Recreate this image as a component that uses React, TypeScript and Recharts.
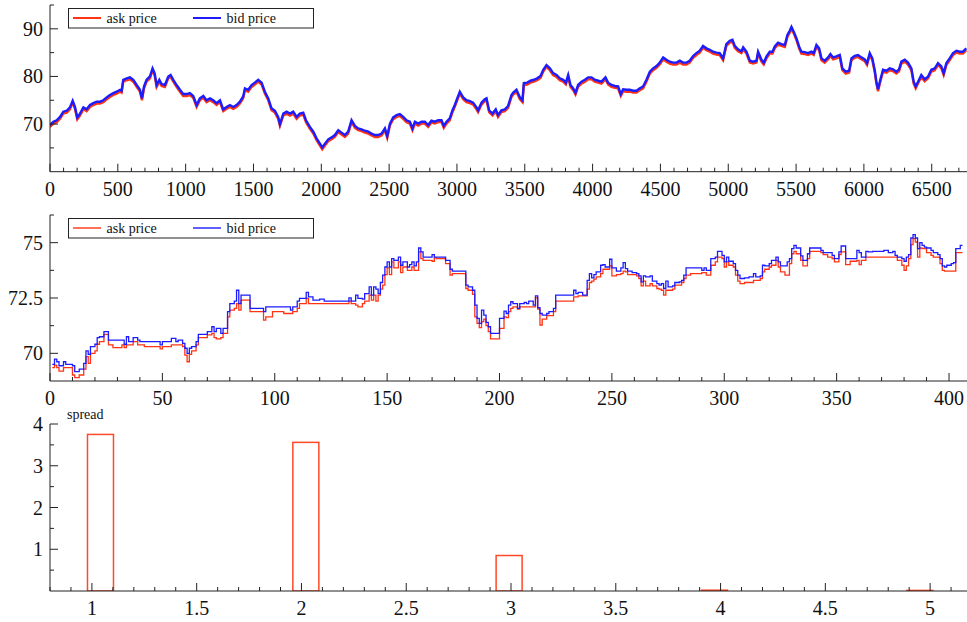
import React from 'react';
import { LineChart, Line, XAxis, YAxis, BarChart, Bar, Legend } from 'recharts';

const FONT = '"Liberation Serif", "Times New Roman", serif';
const AXIS = '#222';
const ASK = '#ff3414';
const BID = '#1c1cff';

// ---------- top panel: full record ----------
const topX = [
  0,25,49,74,98,123,147,167,184,201,
  221,246,270,295,319,344,368,393,418,442,
  467,491,516,528,540,565,589,614,639,663,
  678,693,712,737,756,771,786,806,823,847,
  872,889,909,933,958,982,1007,1031,1056,1081,
  1105,1130,1154,1179,1203,1228,1253,1277,1302,1326,
  1351,1375,1400,1424,1437,1461,1486,1510,1535,1560,
  1584,1609,1633,1658,1682,1695,1720,1744,1769,1793,
  1818,1842,1867,1887,1916,1941,1965,1990,2007,2027,
  2051,2076,2100,2125,2149,2174,2198,2223,2248,2272,
  2297,2321,2346,2370,2395,2420,2444,2469,2486,2506,
  2530,2555,2579,2604,2628,2653,2672,2690,2714,2739,
  2763,2788,2812,2837,2862,2886,2903,2923,2947,2967,
  2984,3002,3021,3046,3070,3095,3119,3144,3156,3181,
  3205,3218,3237,3262,3286,3303,3328,3353,3377,3402,
  3415,3439,3464,3483,3493,3518,3542,3567,3591,3616,
  3636,3660,3685,3709,3734,3758,3783,3803,3820,3837,
  3857,3874,3893,3918,3943,3967,3992,4016,4041,4065,
  4095,4114,4139,4164,4188,4208,4225,4250,4274,4299,
  4323,4348,4372,4397,4422,4446,4471,4495,4520,4544,
  4569,4593,4618,4643,4667,4692,4716,4741,4765,4790,
  4814,4839,4864,4888,4913,4937,4962,4986,5011,5031,
  5048,5072,5097,5110,5134,5159,5183,5208,5220,5245,
  5262,5282,5306,5326,5343,5367,5392,5417,5436,5453,
  5466,5483,5503,5522,5539,5564,5588,5613,5630,5650,
  5670,5687,5711,5736,5753,5773,5797,5822,5841,5866,
  5891,5908,5932,5957,5981,6006,6023,6043,6062,6080,
  6092,6104,6121,6141,6166,6190,6215,6239,6259,6276,
  6301,6325,6350,6367,6382,6399,6423,6448,6473,6497,
  6522,6546,6571,6588,6608,6632,6657,6682,6706,6730,
  6755,
];
const topBid = [
  69.8,70.5,70.8,71.5,72.6,72.8,73.5,74.9,73.6,71.4,
  72.2,73.5,73.1,74.0,74.4,74.7,74.7,75.0,75.6,76.1,
  76.5,76.8,77.2,77.0,79.3,79.6,79.8,79.3,78.2,77.2,
  75.4,77.9,79.3,80.0,81.7,80.7,78.2,79.3,78.4,78.2,
  80.0,80.3,79.3,78.2,77.2,76.3,76.3,76.5,75.9,74.0,
  75.4,75.9,75.0,75.4,75.0,74.4,75.0,73.1,73.6,74.0,
  73.6,74.0,74.7,75.8,77.5,77.2,78.2,78.7,79.3,78.7,
  76.8,75.4,73.3,72.8,71.5,70.0,72.2,72.6,72.2,72.6,
  71.5,72.2,72.4,70.8,69.4,68.4,67.0,65.9,65.1,65.9,
  66.8,67.2,67.7,68.7,68.2,67.7,68.4,70.8,69.6,69.1,
  68.9,68.6,68.4,68.0,67.7,67.7,68.0,69.1,67.5,70.1,
  71.4,71.9,72.1,71.5,70.8,70.5,69.1,70.5,70.1,70.5,
  70.5,69.8,70.7,70.5,70.8,70.8,69.6,70.5,71.2,72.9,
  74.0,75.4,76.8,75.6,75.0,74.8,74.5,73.5,72.9,74.5,
  75.2,75.4,72.9,72.2,73.1,71.9,72.9,73.1,73.8,76.1,
  76.6,77.2,75.6,75.0,78.6,78.7,79.1,79.3,79.6,80.1,
  81.4,82.4,81.7,80.7,80.3,79.6,79.3,78.7,80.3,78.2,
  77.5,76.6,78.2,78.9,79.3,79.8,79.8,79.3,79.1,78.9,
  79.8,78.7,78.2,78.0,77.9,76.3,77.3,77.2,77.2,77.0,
  77.0,77.5,77.9,79.3,81.0,81.7,82.2,82.9,84.0,83.5,
  83.1,82.9,82.9,83.3,82.9,82.9,83.3,84.3,84.9,85.4,
  86.4,85.9,85.6,85.2,85.0,84.9,83.8,86.8,87.5,87.7,
  86.4,85.7,85.3,86.1,85.2,83.3,83.1,83.3,85.2,83.5,
  82.9,84.2,85.2,85.2,86.3,87.1,86.8,86.6,88.7,89.6,
  90.4,89.4,88.0,86.3,85.2,85.1,84.9,85.2,84.9,86.6,
  85.9,83.8,83.3,84.0,84.7,84.0,84.2,84.5,81.7,81.0,
  81.2,83.8,84.3,84.5,84.0,83.6,82.8,84.9,83.8,81.3,
  78.9,77.3,79.3,81.4,81.2,81.7,81.5,81.0,81.5,83.1,
  83.5,82.9,81.7,78.9,77.9,78.9,80.3,79.4,80.0,81.4,
  81.7,82.8,82.1,80.7,82.8,83.8,84.9,85.4,85.2,85.2,
  85.9,
];
const topAsk = [
  69.4,70.1,70.4,71.1,72.2,72.4,73.1,74.5,73.2,71.0,
  71.8,73.1,72.7,73.6,74.0,74.3,74.3,74.6,75.2,75.7,
  76.1,76.4,76.8,76.6,78.9,79.2,79.4,78.9,77.8,76.8,
  75.0,77.5,78.9,79.6,81.3,80.3,77.8,78.9,78.0,77.8,
  79.6,79.9,78.9,77.8,76.8,75.9,75.9,76.1,75.5,73.6,
  75.0,75.5,74.6,75.0,74.6,74.0,74.6,72.7,73.2,73.6,
  73.2,73.6,74.3,75.4,77.1,76.8,77.8,78.3,78.9,78.3,
  76.4,75.0,72.9,72.4,71.1,69.6,71.8,72.2,71.8,72.2,
  71.1,71.8,72.0,70.4,69.0,68.0,66.6,65.5,64.7,65.5,
  66.4,66.8,67.3,68.3,67.8,67.3,68.0,70.4,69.2,68.7,
  68.5,68.2,68.0,67.6,67.3,67.3,67.6,68.7,67.1,69.7,
  71.0,71.5,71.7,71.1,70.4,70.1,68.7,70.1,69.7,70.1,
  70.1,69.4,70.3,70.1,70.4,70.4,69.2,70.1,70.8,72.5,
  73.6,75.0,76.4,75.2,74.6,74.4,74.1,73.1,72.5,74.1,
  74.8,75.0,72.5,71.8,72.7,71.5,72.5,72.7,73.4,75.7,
  76.2,76.8,75.2,74.6,78.2,78.3,78.7,78.9,79.2,79.7,
  81.0,82.0,81.3,80.3,79.9,79.2,78.9,78.3,79.9,77.8,
  77.1,76.2,77.8,78.5,78.9,79.4,79.4,78.9,78.7,78.5,
  79.4,78.3,77.8,77.6,77.5,75.9,76.9,76.8,76.8,76.6,
  76.6,77.1,77.5,78.9,80.6,81.3,81.8,82.5,83.6,83.1,
  82.7,82.5,82.5,82.9,82.5,82.5,82.9,83.9,84.5,85.0,
  86.0,85.5,85.2,84.8,84.6,84.5,83.4,86.4,87.1,87.3,
  86.0,85.3,84.9,85.7,84.8,82.9,82.7,82.9,84.8,83.1,
  82.5,83.8,84.8,84.8,85.9,86.7,86.4,86.2,88.3,89.2,
  90.0,89.0,87.6,85.9,84.8,84.7,84.5,84.8,84.5,86.2,
  85.5,83.4,82.9,83.6,84.3,83.6,83.8,84.1,81.3,80.6,
  80.8,83.4,83.9,84.1,83.6,83.2,82.4,84.5,83.4,80.9,
  78.5,76.9,78.9,81.0,80.8,81.3,81.1,80.6,81.1,82.7,
  83.1,82.5,81.3,78.5,77.5,78.5,79.9,79.0,79.6,81.0,
  81.3,82.4,81.7,80.3,82.4,83.4,84.5,85.0,84.8,84.8,
  85.5,
];
const topXTicks = [0,100,200,300,400,500,600,700,800,900,1000,1100,1200,1300,1400,1500,1600,1700,1800,1900,2000,2100,2200,2300,2400,2500,2600,2700,2800,2900,3000,3100,3200,3300,3400,3500,3600,3700,3800,3900,4000,4100,4200,4300,4400,4500,4600,4700,4800,4900,5000,5100,5200,5300,5400,5500,5600,5700,5800,5900,6000,6100,6200,6300,6400,6500,6600,6700];
const topXLabels = [0,500,1000,1500,2000,2500,3000,3500,4000,4500,5000,5500,6000,6500];
const topYTicks = [65,70,75,80,85,90,95];
const topYLabels = [70,80,90];

// ---------- middle panel: first ticks (step) ----------
const midX = [
  1,2,3,4,6,7,10,11,13,15,
  16,17,18,20,21,22,24,26,28,32,
  33,34,35,37,39,40,42,49,50,54,
  56,57,59,60,61,62,63,65,66,70,
  72,73,74,76,77,79,80,82,83,84,
  85,89,95,96,99,104,107,108,110,111,
  114,115,117,120,122,133,134,136,137,139,
  140,142,143,144,145,146,147,148,149,150,
  151,152,153,155,156,157,159,160,161,162,
  163,164,165,166,170,171,172,176,178,179,
  185,186,188,189,190,191,192,193,194,195,
  196,200,202,203,204,205,206,208,209,211,
  212,213,215,216,217,218,219,221,222,224,
  225,233,234,235,237,239,240,241,242,243,
  245,246,247,249,250,252,254,255,256,257,
  259,261,262,263,264,265,267,268,270,271,
  272,273,274,275,277,278,280,281,282,283,
  285,290,291,292,294,296,297,299,300,301,
  302,304,305,306,307,309,311,313,314,316,
  317,318,320,321,323,324,325,327,328,329,
  330,331,332,334,335,337,338,343,344,346,
  348,349,351,352,354,356,359,360,361,363,
  364,366,371,373,375,376,377,379,380,381,
  382,383,384,385,386,387,388,389,390,392,
  393,395,396,397,398,399,401,402,403,405,
  406,
];
const midBid = [
  69.50,69.74,69.62,69.44,69.62,69.50,69.44,69.17,69.29,69.55,
  70.11,69.95,70.30,70.41,70.71,70.75,70.98,70.60,70.60,70.60,
  70.41,70.75,70.53,70.71,70.60,70.53,70.53,70.38,70.53,70.68,
  70.53,70.60,70.45,70.23,70.00,70.23,70.30,70.53,70.86,70.98,
  71.20,70.98,71.13,70.90,71.13,71.88,72.25,72.36,72.85,72.25,
  72.63,72.03,71.88,72.10,72.10,72.10,71.95,72.10,72.36,72.48,
  72.75,72.55,72.40,72.45,72.36,72.51,72.36,72.63,72.48,72.45,
  72.70,73.00,72.63,73.00,72.90,72.70,73.20,73.53,73.90,74.13,
  73.90,74.28,74.20,74.35,73.98,74.13,73.90,74.01,74.13,73.95,
  74.13,74.76,74.58,74.35,74.46,74.35,74.35,74.20,73.80,73.71,
  73.08,73.00,72.85,72.18,71.58,71.35,71.95,71.73,71.40,71.20,
  70.90,71.58,71.91,71.80,72.18,72.33,72.25,72.03,72.25,72.30,
  72.25,72.36,72.18,72.60,72.06,71.80,71.73,71.80,71.88,72.03,
  72.63,72.85,72.70,72.75,72.63,73.30,73.60,73.41,73.56,73.68,
  73.98,74.01,73.90,74.25,73.86,73.71,73.86,74.10,73.83,73.71,
  73.65,73.60,73.50,73.23,73.50,73.45,73.50,73.26,73.15,73.08,
  73.15,72.93,73.26,73.00,73.05,73.20,73.23,73.30,73.53,73.86,
  73.86,73.75,73.86,73.75,74.28,74.35,74.61,74.43,74.13,74.35,
  74.16,74.05,73.75,73.53,73.38,73.41,73.45,73.60,73.45,73.50,
  73.98,73.95,74.05,74.20,74.35,74.13,73.95,73.95,74.13,74.28,
  74.73,74.88,74.76,74.40,74.20,74.50,74.76,74.65,74.55,74.55,
  74.43,74.28,74.58,74.85,74.28,74.28,74.65,74.55,74.35,74.61,
  74.58,74.61,74.65,74.55,74.61,74.43,74.35,74.28,74.16,74.35,
  74.46,75.21,75.36,75.21,74.73,75.00,74.88,74.80,74.76,74.65,
  74.55,74.46,74.28,73.95,73.90,73.98,74.05,74.10,74.73,74.88,
  74.88,
];
const midAsk = [
  69.35,69.47,69.35,69.20,69.35,69.35,69.02,68.90,69.02,69.29,
  69.85,69.55,70.00,70.11,70.41,70.53,70.86,70.38,70.26,70.38,
  70.26,70.38,70.38,70.53,70.38,70.38,70.30,70.20,70.30,70.38,
  70.38,70.38,70.30,69.92,69.62,69.95,70.11,70.38,70.71,70.83,
  70.90,70.71,70.65,70.71,70.90,71.65,71.95,72.03,72.25,71.95,
  72.40,71.88,71.50,71.65,71.88,71.80,71.80,71.88,72.03,72.25,
  72.48,72.25,72.25,72.25,72.25,72.36,72.25,72.18,72.10,72.25,
  72.36,72.63,72.40,72.63,72.36,72.63,72.90,73.08,73.56,73.86,
  73.56,74.13,73.86,74.13,73.65,73.90,73.75,73.75,73.90,73.75,
  73.75,74.58,74.28,74.20,74.16,74.31,74.28,74.05,73.53,73.60,
  72.93,72.85,72.66,71.65,71.35,71.16,71.43,71.55,71.25,70.98,
  70.65,71.13,71.65,71.61,71.88,72.03,72.10,72.00,72.10,72.10,
  72.10,72.10,72.10,72.51,72.00,71.28,71.55,71.70,71.70,71.88,
  72.36,72.55,72.55,72.60,72.60,72.90,73.20,73.26,73.35,73.45,
  73.60,73.80,73.80,73.95,73.50,73.56,73.60,73.71,73.68,73.56,
  73.56,73.50,73.38,73.05,73.26,73.05,73.15,73.05,72.93,72.90,
  72.85,72.63,72.85,72.85,72.90,73.08,73.08,73.20,73.38,73.53,
  73.60,73.65,73.65,73.53,73.98,74.13,74.35,74.28,73.90,74.13,
  73.98,73.90,73.53,73.26,73.15,73.20,73.20,73.30,73.30,73.38,
  73.68,73.80,73.90,73.98,74.20,73.90,73.68,73.53,73.53,74.05,
  74.50,74.61,74.50,74.20,73.95,74.28,74.61,74.55,74.46,74.35,
  74.28,74.13,74.46,74.58,74.01,74.16,74.20,74.01,74.20,74.35,
  74.35,74.35,74.35,74.35,74.35,74.35,74.20,73.98,73.75,73.95,
  74.28,74.91,75.18,75.03,74.35,74.76,74.73,74.73,74.55,74.43,
  74.35,74.35,74.05,73.75,73.71,73.71,73.71,73.71,74.55,74.55,
  74.55,
];
const midXTicks = [0,10,20,30,40,50,60,70,80,90,100,110,120,130,140,150,160,170,180,190,200,210,220,230,240,250,260,270,280,290,300,310,320,330,340,350,360,370,380,390,400];
const midXLabels = [0,50,100,150,200,250,300,350,400];
const midYTicks = [70,71.25,72.5,73.75,75,76.25];
const midYLabels = [70,72.5,75];

// ---------- bottom panel: spread histogram ----------
const spreadBins = [1.04, 2.02, 2.99, 3.97, 4.95];
const spreadValues = [3.75, 3.56, 0.85, 0.02, 0.01];
const botXTicks = [0.8,0.9,1,1.1,1.2,1.3,1.4,1.5,1.6,1.7,1.8,1.9,2,2.1,2.2,2.3,2.4,2.5,2.6,2.7,2.8,2.9,3,3.1,3.2,3.3,3.4,3.5,3.6,3.7,3.8,3.9,4,4.1,4.2,4.3,4.4,4.5,4.6,4.7,4.8,4.9,5,5.1];
const botXLabels = [1,1.5,2,2.5,3,3.5,4,4.5,5];
const botYTicks = [0.5,1,1.5,2,2.5,3,3.5,4];
const botYLabels = [1,2,3,4];

const topData = topX.map((x, i) => ({ x, ask: topAsk[i], bid: topBid[i] }));
const midData = midX.map((x, i) => ({ x, ask: midAsk[i], bid: midBid[i] }));
const spreadData = spreadBins.map((x, i) => ({ x, spread: spreadValues[i] }));

const near = (a: number, b: number) => Math.abs(a - b) < 1e-6;
const fmt = (v: number) => String(+Number(v).toFixed(3));

const makeXTick = (labels: number[]) => (props: any) => {
  const { x, y, payload } = props;
  const major = labels.some((l) => near(l, payload.value));
  return (
    <g>
      <line x1={x} x2={x} y1={y} y2={y - (major ? 8 : 4)} stroke={AXIS} strokeWidth={1} />
      {major && (
        <text x={x} y={y + 24} textAnchor="middle" fontSize={20} fontFamily={FONT} fill="#111">
          {fmt(payload.value)}
        </text>
      )}
    </g>
  );
};

const makeYTick = (labels: number[]) => (props: any) => {
  const { x, y, payload } = props;
  const major = labels.some((l) => near(l, payload.value));
  return (
    <g>
      <line x1={x} x2={x + (major ? 8 : 4)} y1={y} y2={y} stroke={AXIS} strokeWidth={1} />
      {major && (
        <text x={x - 7} y={y} dy="0.35em" textAnchor="end" fontSize={20} fontFamily={FONT} fill="#111">
          {fmt(payload.value)}
        </text>
      )}
    </g>
  );
};

// hollow histogram bar, 26px wide, centred on the bar position Recharts computes
const OutlineBar = (props: any) => {
  const { x, y, width, height } = props;
  const cx = x + width / 2;
  const h = Math.max(height, 0.6);
  return <rect x={cx - 13} y={y + height - h} width={26} height={h} fill="none" stroke="#ff4a26" strokeWidth={1.5} />;
};

const PriceLegend = ({ thick }: { thick: number }) => (
  <svg width={247} height={21} style={{ display: 'block' }}>
    <rect x={0.5} y={0.5} width={245} height={19.5} fill="#fff" stroke="#222" strokeWidth={1} />
    <line x1={5} x2={33} y1={10} y2={10} stroke={ASK} strokeWidth={thick} />
    <text x={38.5} y={14.5} fontSize={14} fontFamily={FONT} fill="#111">ask price</text>
    <line x1={125} x2={153} y1={10} y2={10} stroke={BID} strokeWidth={thick} />
    <text x={158.5} y={14.5} fontSize={14} fontFamily={FONT} fill="#111">bid price</text>
  </svg>
);

const SpreadLegend = () => (
  <svg width={60} height={18} style={{ display: 'block' }}>
    <text x={0} y={12.5} fontSize={14} fontFamily={FONT} fill="#111">spread</text>
  </svg>
);

export default function App() {
  return (
    <div style={{ position: 'absolute', left: 0, top: 0, width: 967, height: 622, background: '#fff', overflow: 'hidden' }}>
      <div style={{ position: 'absolute', left: 0, top: 0 }}>
        <LineChart width={967} height={200} data={topData} margin={{ top: 5, right: 0, left: 0, bottom: 0 }}>
          <XAxis dataKey="x" type="number" domain={[0, 6760]} allowDataOverflow ticks={topXTicks} interval={0}
            tick={makeXTick(topXLabels)} tickLine={false} tickSize={0} tickMargin={0} height={28.3}
            axisLine={{ stroke: AXIS }} />
          <YAxis type="number" domain={[60, 95]} allowDataOverflow ticks={topYTicks} interval={0}
            tick={makeYTick(topYLabels)} tickLine={false} tickSize={0} tickMargin={0} width={50}
            axisLine={{ stroke: AXIS }} />
          <Legend verticalAlign="middle" content={() => <PriceLegend thick={2} />}
            wrapperStyle={{ left: 68, top: 8, width: 247, height: 21 }} />
          <Line dataKey="ask" name="ask price" type="linear" stroke={ASK} strokeWidth={2.4} dot={false} isAnimationActive={false} />
          <Line dataKey="bid" name="bid price" type="linear" stroke={BID} strokeWidth={2.4} dot={false} isAnimationActive={false} />
        </LineChart>
      </div>
      <div style={{ position: 'absolute', left: 0, top: 200 }}>
        <LineChart width={967} height={210} data={midData} margin={{ top: 15, right: 0, left: 0, bottom: 0 }}>
          <XAxis dataKey="x" type="number" domain={[0, 408]} allowDataOverflow ticks={midXTicks} interval={0}
            tick={makeXTick(midXLabels)} tickLine={false} tickSize={0} tickMargin={0} height={29}
            axisLine={{ stroke: AXIS }} />
          <YAxis type="number" domain={[68.75, 76.25]} allowDataOverflow ticks={midYTicks} interval={0}
            tick={makeYTick(midYLabels)} tickLine={false} tickSize={0} tickMargin={0} width={50}
            axisLine={{ stroke: AXIS }} />
          <Legend verticalAlign="middle" content={() => <PriceLegend thick={1.4} />}
            wrapperStyle={{ left: 68, top: 17.5, width: 247, height: 21 }} />
          <Line dataKey="ask" name="ask price" type="stepAfter" stroke={ASK} strokeWidth={1.3} dot={false} isAnimationActive={false} />
          <Line dataKey="bid" name="bid price" type="stepAfter" stroke={BID} strokeWidth={1.3} dot={false} isAnimationActive={false} />
        </LineChart>
      </div>
      <div style={{ position: 'absolute', left: 0, top: 400 }}>
        <BarChart width={967} height={222} data={spreadData} margin={{ top: 24, right: 0, left: 0, bottom: 0 }}>
          <XAxis dataKey="x" type="number" domain={[0.8, 5.176]} allowDataOverflow ticks={botXTicks} interval={0}
            tick={makeXTick(botXLabels)} tickLine={false} tickSize={0} tickMargin={0} height={31}
            axisLine={{ stroke: AXIS }} />
          <YAxis type="number" domain={[0, 4]} allowDataOverflow ticks={botYTicks} interval={0}
            tick={makeYTick(botYLabels)} tickLine={false} tickSize={0} tickMargin={0} width={50}
            axisLine={{ stroke: AXIS }} />
          <Legend verticalAlign="middle" content={() => <SpreadLegend />}
            wrapperStyle={{ left: 67, top: 6, width: 60, height: 18 }} />
          <Bar dataKey="spread" name="spread" shape={OutlineBar} isAnimationActive={false} />
        </BarChart>
      </div>
    </div>
  );
}
